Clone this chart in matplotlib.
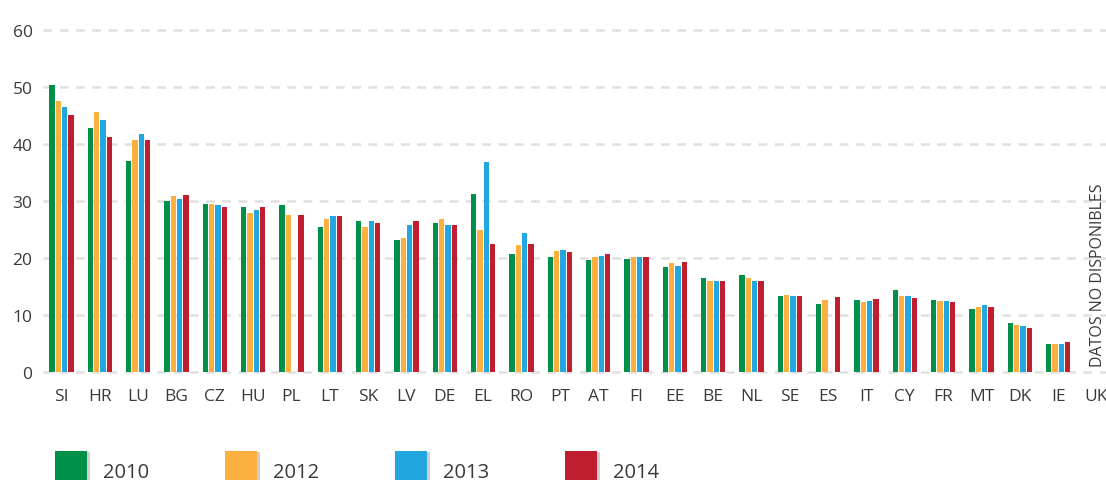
import matplotlib
matplotlib.use("Agg")
import matplotlib.pyplot as plt
from matplotlib.patches import Rectangle
import numpy as np

plt.rcParams['font.family'] = ['Open Sans', 'DejaVu Sans']

countries = ["SI", "HR", "LU", "BG", "CZ", "HU", "PL", "LT", "SK", "LV", "DE", "EL", "RO", "PT",
             "AT", "FI", "EE", "BE", "NL", "SE", "ES", "IT", "CY", "FR", "MT", "DK", "IE", "UK"]
years = ["2010", "2012", "2013", "2014"]
nan = np.nan
v2010 = [50.4, 42.8, 37.1, 30.1, 29.5, 29.0, 29.4, 25.5, 26.5, 23.2, 26.2, 31.3, 20.8, 20.2,
         19.7, 19.9, 18.5, 16.5, 17.1, 13.4, 12.0, 12.7, 14.4, 12.7, 11.1, 8.6, 5.0, nan]
v2012 = [47.6, 45.7, 40.8, 30.9, 29.5, 27.9, 27.6, 26.9, 25.5, 23.6, 26.9, 25.0, 22.3, 21.3,
         20.2, 20.2, 19.2, 16.0, 16.5, 13.6, 12.7, 12.3, 13.4, 12.5, 11.5, 8.3, 5.0, nan]
v2013 = [46.5, 44.3, 41.8, 30.4, 29.4, 28.5, nan, 27.4, 26.5, 25.8, 25.8, 36.9, 24.4, 21.5,
         20.4, 20.2, 18.7, 16.0, 16.0, 13.4, nan, 12.5, 13.4, 12.5, 11.8, 8.1, 5.0, nan]
v2014 = [45.1, 41.3, 40.8, 31.1, 29.0, 29.0, 27.6, 27.4, 26.2, 26.5, 25.8, 22.5, 22.5, 21.1,
         20.8, 20.2, 19.4, 16.0, 16.0, 13.4, 13.2, 12.9, 13.0, 12.3, 11.5, 7.8, 5.3, nan]
series = [v2010, v2012, v2013, v2014]
colors = ["#00904A", "#FBB040", "#22A7E0", "#BE1E2D"]
yticks = [0, 10, 20, 30, 40, 50, 60]
na_label = "DATOS NO DISPONIBLES"

W, H = 1106, 481
fig = plt.figure(figsize=(W / 100, H / 100), dpi=100)
ax = fig.add_axes([43 / W, (H - 376.7) / H, 1 - 43 / W, 354.0 / H])

x = np.arange(len(countries))
step = 0.165
bw = 0.14
for i, (vals, c) in enumerate(zip(series, colors)):
    ax.bar(x + (i - 1.5) * step, vals, width=bw, color=c, zorder=3, linewidth=0)

for t in yticks:
    ax.axhline(t, color="#e0e0e0", lw=1.8, dashes=(3.5, 3.0), zorder=1)

ax.set_xlim(-0.483, 27.25)
ax.set_ylim(-0.6, 61.5)
ax.set_yticks(yticks)
ax.set_yticklabels([str(t) for t in yticks])
ax.set_xticks(x)
ax.set_xticklabels(countries)
ax.tick_params(axis="both", length=0, labelsize=12.5, labelcolor="#3a3a3a")
ax.tick_params(axis="y", pad=7.5)
ax.tick_params(axis="x", pad=8.5)
for s in ax.spines.values():
    s.set_visible(False)

ax.text(x[-1] + 0.05, 1.1, na_label, rotation=90, ha="center", va="bottom",
        fontsize=11.5, color="#3a3a3a", zorder=4)

# legend
lx = [55, 225, 395, 565]
for px, yr, c in zip(lx, years, colors):
    fig.add_artist(Rectangle(((px + 3) / W, (H - 490) / H), 32 / W, 37 / H,
                             transform=fig.transFigure, color="#cfcfcf", lw=0))
    fig.add_artist(Rectangle((px / W, (H - 490) / H), 32 / W, 38 / H,
                             transform=fig.transFigure, color=c, lw=0))
    fig.text((px + 48) / W, (H - 478) / H, yr, ha="left", va="baseline",
             fontsize=14.5, color="#3a3a3a")

fig.savefig("out.png", dpi=100)
